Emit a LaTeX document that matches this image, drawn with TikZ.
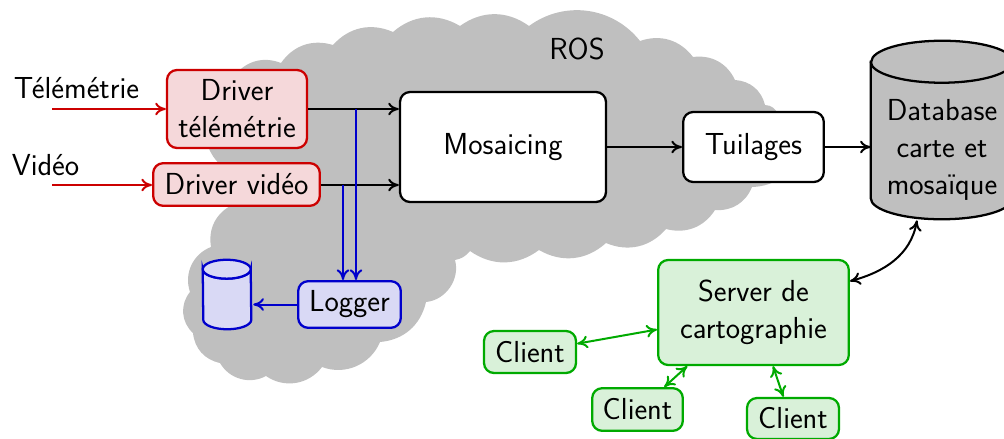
\documentclass[tikz,border=0pt]{standalone}
\usepackage{fontspec}
\usetikzlibrary{arrows.meta,shapes.geometric,calc}
\definecolor{redl}{RGB}{204,0,0}
\definecolor{redf}{RGB}{245,216,218}
\definecolor{blul}{RGB}{0,0,204}
\definecolor{bluf}{RGB}{217,217,245}
\definecolor{grnl}{RGB}{0,170,0}
\definecolor{grnf}{RGB}{217,241,217}
\definecolor{cloudgray}{RGB}{191,191,191}
\tikzset{
  txt/.style={font=\sffamily\fontsize{22.8pt}{27.75pt}\selectfont},
  box/.style={draw,line width=1.7pt,rounded corners=7.5pt,align=center,inner sep=0pt,txt},
  whitebox/.style={box,fill=white,draw=black},
  redbox/.style={box,fill=redf,draw=redl},
  blubox/.style={box,fill=bluf,draw=blul},
  grnbox/.style={box,fill=grnf,draw=grnl},
  lab/.style={inner sep=0pt,txt},
  conn/.style={line width=1.5pt,-{Computer Modern Rightarrow[length=8pt,width=9.5pt]}},
  biconn/.style={line width=1.5pt,{Computer Modern Rightarrow[length=8pt,width=9.5pt]}-{Computer Modern Rightarrow[length=8pt,width=9.5pt]}},
  bump/.style={bend left=36},
  lobe/.style={bend left=44},
  cyl/.style={line width=1.7pt}
}
\begin{document}
\begin{tikzpicture}[x=0.75pt,y=-0.75pt]
\useasboundingbox (0,0) rectangle (1004,439);
\clip (0,0) rectangle (1004,439);
\fill[cloudgray] (211,247) to[bump] (232,205) to[bump] (222,166) to[bend left=60] (235,75)
  to[bump] (281,63) to[bump] (333,45) to[bump] (393,32) to[bump] (460,26) to[bump] (529,26)
  to[lobe] (640,41) to[bump] (693,57) to[bump] (735,80) to[bump] (765,105) to[bump] (778,115)
  to[bump] (800,150) to[bump] (752,187) to[bump] (715,210) to[bump] (666,229) to[bump] (606,243)
  to[bump] (539,250) to[bump] (470,251) to[bend left=20] (455,260) to[bend left=50] (426,302) to[bump] (380,342) to[lobe] (322,367)
  to[lobe] (266,376) to[lobe] (220,363) to[bump] (193,333) to[lobe] (190,292) to[lobe] (211,247) -- cycle;

\node[lab] (ros) at (577,49) {ROS};
\node[lab] (ltel) at (76.5,88) {Télémétrie};
\node[lab] (lvid) at (45.5,165) {Vidéo};

\node[redbox,minimum width=105pt,minimum height=58.5pt] (tele) at (237,109) {Driver\\télémétrie};
\node[redbox,minimum width=125pt,minimum height=32pt] (vid) at (236.5,184.5) {Driver vidéo};
\node[whitebox,minimum width=154.5pt,minimum height=82.5pt] (mos) at (503,147) {Mosaicing};
\node[whitebox,minimum width=105.5pt,minimum height=52.5pt] (tui) at (753.5,147) {Tuilages};
\node[blubox,minimum width=77pt,minimum height=35pt] (log) at (349.5,304.5) {Logger};
\node[grnbox,minimum width=143pt,minimum height=78.75pt] (srv) at (753.5,312.5) {Server de\\cartographie};
\node[grnbox,minimum width=69pt,minimum height=31.5pt] (c1) at (530,352) {Client};
\node[grnbox,minimum width=68pt,minimum height=32pt] (c2) at (637.5,409.5) {Client};
\node[grnbox,minimum width=69pt,minimum height=30.75pt] (c3) at (793,418.5) {Client};

% small cylinder
\node[minimum width=36pt,minimum height=51.75pt,inner sep=0pt] (sdb) at (227,294.5) {};
\draw[cyl,draw=blul,fill=bluf] ([yshift=-7.1pt]sdb.north west)
  arc[start angle=180,end angle=360,x radius=18pt,y radius=7.1pt]
  -- ([yshift=7.1pt]sdb.south east)
  arc[start angle=360,end angle=180,x radius=18pt,y radius=7.1pt] -- cycle;
\draw[cyl,draw=blul,fill=bluf] ([yshift=-7.1pt]sdb.north west)
  arc[start angle=180,end angle=-180,x radius=18pt,y radius=7.1pt];
% database cylinder
\node[minimum width=106.5pt,minimum height=133.5pt,inner sep=0pt] (db) at (942,130) {};
\draw[cyl,fill=cloudgray] ([yshift=-15.75pt]db.north west)
  -- ([yshift=15.75pt]db.south west)
  arc[start angle=180,end angle=360,x radius=53.25pt,y radius=15.75pt]
  -- ([yshift=-15.75pt]db.north east)
  arc[start angle=0,end angle=180,x radius=53.25pt,y radius=15.75pt] -- cycle;
\draw[cyl] ([yshift=-15.75pt]db.north west)
  arc[start angle=180,end angle=360,x radius=53.25pt,y radius=15.75pt];
\node[lab,align=center] (dbt) at (942,150) {Database\\carte et\\mosaïque};

\coordinate (itel) at (52,109);
\coordinate (ivid) at (52,185);
\draw[conn,redl] (itel) -- (tele.west |- itel);
\draw[conn,redl] (ivid) -- (vid.west |- ivid);
\draw[conn] (tele.east |- itel) -- (mos.west |- itel);
\draw[conn] (vid.east |- ivid) -- (mos.west |- ivid);
\coordinate (bt) at (356,109);
\coordinate (bv) at (343,185);
\draw[conn,blul] (bt) -- (bt |- log.north);
\draw[conn,blul] (bv) -- (bv |- log.north);
\draw[conn,blul] (log.west) -- ($(sdb.east |- log.west)+(2,0)$);
\draw[conn] (mos.east) -- (tui.west);
\draw[conn] (tui.east) -- (tui.east -| db.west);
\coordinate (dbs) at ($(db.south)+(-25,1)$);
\draw[biconn] (dbs) to[out=-100,in=15] (srv.18);
\draw[biconn,grnl] (c1.10) -- (srv.190);
\draw[biconn,grnl] (c2.40) -- (srv.219);
\draw[biconn,grnl] (c3.114) -- (srv.-70);
\end{tikzpicture}
\end{document}
